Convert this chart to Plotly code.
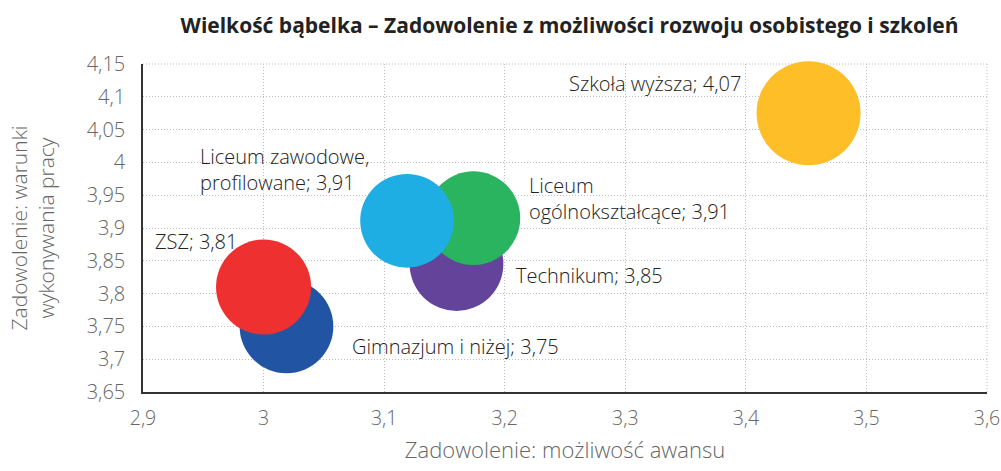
import plotly.graph_objects as go

categories = ["Szkoła wyższa", "Gimnazjum i niżej", "Technikum",
              "Liceum ogólnokształcące", "Liceum zawodowe, profilowane", "ZSZ"]
awans = [3.452, 3.019, 3.160, 3.174, 3.119, 3.000]          # x
warunki = [4.075, 3.75, 3.845, 3.915, 3.911, 3.81]           # y
rozwoj = [4.25, 3.45, 3.45, 3.45, 3.45, 3.55]                # bubble size
label_text = ["Szkoła wyższa; 4,07", "Gimnazjum i niżej; 3,75", "Technikum; 3,85",
              "Liceum<br>ogólnokształcące; 3,91", "Liceum zawodowe,<br>profilowane; 3,91",
              "ZSZ; 3,81"]
colors = ["#FDBE28", "#2155A4", "#64449A", "#2BB45F", "#1EAEE3", "#EE3130"]

x_ticks = [2.9, 3.0, 3.1, 3.2, 3.3, 3.4, 3.5, 3.6]
x_ticktext = ["2,9", "3", "3,1", "3,2", "3,3", "3,4", "3,5", "3,6"]
y_ticks = [3.65, 3.7, 3.75, 3.8, 3.85, 3.9, 3.95, 4.0, 4.05, 4.1, 4.15]
y_ticktext = ["3,65", "3,7", "3,75", "3,8", "3,85", "3,9", "3,95", "4", "4,05", "4,1", "4,15"]

# label placement (pixel offsets from each bubble centre)
label_dx = [-66, 64, 58, 54, -209, -111]
label_dy = [30, -20, -11, 20, 51, 46]
label_anchor = ["right", "left", "left", "left", "left", "left"]

max_diam = 104
sizeref = 2.0 * max(rozwoj) / (max_diam ** 2)

FONT = "Open Sans"
GRID = "#BEBEBE"
DOTS = "1px,2px"

fig = go.Figure()
fig.add_trace(go.Scatter(
    x=awans, y=warunki, mode="markers", text=categories,
    marker=dict(size=rozwoj, sizemode="area", sizeref=sizeref,
                color=colors, opacity=1, line=dict(width=0)),
    cliponaxis=False, showlegend=False, hoverinfo="text",
))

for xv, yv, t, dx, dy, anc in zip(awans, warunki, label_text, label_dx, label_dy, label_anchor):
    fig.add_annotation(x=xv, y=yv, xref="x", yref="y", text=t, showarrow=False,
                       xanchor=anc, yanchor="middle", align=anc, xshift=dx, yshift=dy,
                       font=dict(family=FONT, size=20, color="#222222", weight=300))

fig.update_layout(
    width=1001, height=471,
    margin=dict(l=143, r=14, t=64, b=79),
    paper_bgcolor="white", plot_bgcolor="white",
    title=dict(text="<b>Wielkość bąbelka – Zadowolenie z możliwości rozwoju osobistego i szkoleń</b>",
               x=0.569, xanchor="center", y=0.945, yanchor="middle",
               font=dict(family=FONT, size=21, color="#222222")),
    font=dict(family=FONT, color="#666666"),
    xaxis=dict(range=[2.9, 3.6], tickmode="array", tickvals=x_ticks, ticktext=x_ticktext,
               showgrid=True, gridcolor=GRID, griddash=DOTS, gridwidth=1,
               showline=True, linecolor="#333333", linewidth=1.5,
               ticks="outside", ticklen=8, tickcolor="rgba(0,0,0,0)",
               tickfont=dict(family=FONT, size=19.5, color="#666666", weight=300),
               zeroline=False, automargin=False,
               title=dict(text="Zadowolenie: możliwość awansu", standoff=12,
                          font=dict(family=FONT, size=22, color="#666666", weight=300))),
    yaxis=dict(range=[3.65, 4.15], tickmode="array", tickvals=y_ticks, ticktext=y_ticktext,
               showgrid=True, gridcolor=GRID, griddash=DOTS, gridwidth=1,
               showline=True, linecolor="#333333", linewidth=1.5,
               ticks="outside", ticklen=12, tickcolor="rgba(0,0,0,0)",
               tickfont=dict(family=FONT, size=20, color="#666666", weight=300),
               zeroline=False, automargin=False,
               title=dict(text="Zadowolenie: warunki<br>wykonywania pracy", standoff=26,
                          font=dict(family=FONT, size=21, color="#666666", weight=300))),
)
# right and top dotted frame lines
fig.add_shape(type="line", xref="paper", yref="paper", x0=1, x1=1, y0=0, y1=1,
              line=dict(color=GRID, width=1, dash=DOTS), layer="below")
fig.add_shape(type="line", xref="paper", yref="paper", x0=0, x1=1, y0=1, y1=1,
              line=dict(color=GRID, width=1, dash=DOTS), layer="below")

fig.write_html("out.html", config={"displayModeBar": False},
               post_script="document.body.style.margin='0';document.body.style.overflow='hidden';")
